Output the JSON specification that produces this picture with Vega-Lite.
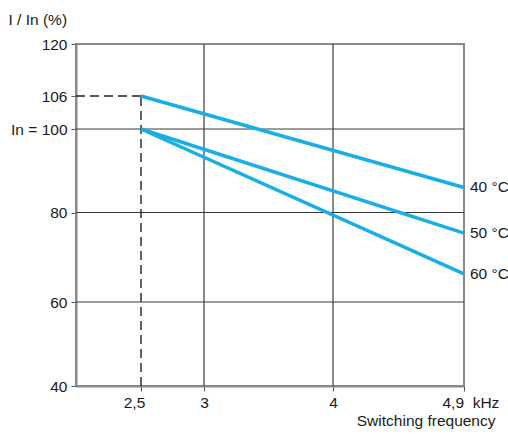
{
  "$schema": "https://vega.github.io/schema/vega-lite/v6.json",
  "autosize": "none",
  "width": 388,
  "height": 342,
  "padding": {"left": 76, "top": 44, "right": 44, "bottom": 48},
  "background": "white",
  "config": {
    "view": {"stroke": "#8a8a8a", "strokeWidth": 2},
    "font": "Liberation Sans",
    "axis": {"labelFont": "Liberation Sans", "titleFont": "Liberation Sans", "labelFontSize": 15.5, "titleFontSize": 15.5, "labelColor": "#1a1a1a", "titleColor": "#1a1a1a", "titleFontWeight": "normal", "domainColor": "#8a8a8a", "domainWidth": 2, "tickColor": "#555555", "tickSize": 5, "tickWidth": 1, "labelPadding": 4, "grid": false}
  },
  "datasets": {
    "curves": [
      {"f": 2.5, "pct": 106, "temp": "40 °C"},
      {"f": 4.9, "pct": 86, "temp": "40 °C"},
      {"f": 2.5, "pct": 100, "temp": "50 °C"},
      {"f": 4.9, "pct": 75.4, "temp": "50 °C"},
      {"f": 2.5, "pct": 100, "temp": "60 °C"},
      {"f": 4.9, "pct": 66.3, "temp": "60 °C"}
    ],
    "vgrid": [{"f": 3}, {"f": 4}],
    "hgrid": [{"pct": 100}, {"pct": 80}, {"pct": 60}],
    "dashes": [
      {"f": 2, "f2": 2.5, "pct": 106, "pct2": 106},
      {"f": 2.5, "f2": 2.5, "pct": 40, "pct2": 106}
    ]
  },
  "layer": [
    {
      "data": {"name": "vgrid"},
      "mark": {"type": "rule", "color": "#3a3a3a", "strokeWidth": 1.2},
      "encoding": {
        "x": {"field": "f", "type": "quantitative",
          "scale": {"domain": [2, 2.5, 3, 4, 4.9], "range": [0, 65, 128, 257, 388], "nice": false, "zero": false},
          "axis": {
            "values": [2.5, 3, 4, 4.9],
            "labelExpr": "datum.value == 4.9 ? '4,9\u00a0\u00a0kHz' : replace(format(datum.value, '~g'), '.', ',')",
            "labelAlign": {"condition": {"test": "datum.value == 4.9", "value": "left"}, "value": "center"},
            "labelOffset": {"condition": [{"test": "datum.value == 4.9", "value": -22}, {"test": "datum.value == 2.5", "value": -7}], "value": 0},
            "labelFlush": false,
            "labelOverlap": false,
            "title": "Switching frequency",
            "titleAlign": "right",
            "titleBaseline": "alphabetic",
            "titleX": 419,
            "titleY": 39
          }
        }
      }
    },
    {
      "data": {"name": "hgrid"},
      "mark": {"type": "rule", "color": "#3a3a3a", "strokeWidth": 1},
      "encoding": {
        "y": {"field": "pct", "type": "quantitative",
          "scale": {"domain": [40, 60, 80, 100, 106, 120], "range": [342, 258, 168.5, 85, 52, 0], "nice": false, "zero": false},
          "axis": {
            "values": [40, 60, 80, 100, 106, 120],
            "labelExpr": "datum.value == 100 ? 'In = 100' : datum.label",
            "labelOverlap": false,
            "labelFlush": false,
            "title": "I / In (%)",
            "titleAngle": 0,
            "titleAlign": "left",
            "titleBaseline": "alphabetic",
            "titleX": -68,
            "titleY": -20
          }
        }
      }
    },
    {
      "data": {"name": "dashes"},
      "mark": {"type": "rule", "color": "#222222", "strokeWidth": 1.4, "strokeDash": [9, 5]},
      "encoding": {
        "x": {"field": "f", "type": "quantitative"},
        "x2": {"field": "f2"},
        "y": {"field": "pct", "type": "quantitative"},
        "y2": {"field": "pct2"}
      }
    },
    {
      "data": {"name": "curves"},
      "mark": {"type": "line", "strokeWidth": 3.5, "color": "#1aaee6"},
      "encoding": {
        "x": {"field": "f", "type": "quantitative"},
        "y": {"field": "pct", "type": "quantitative"},
        "detail": {"field": "temp"}
      }
    },
    {
      "data": {"name": "curves"},
      "transform": [{"filter": "datum.f == 4.9"}],
      "mark": {"type": "text", "align": "left", "baseline": "middle", "dx": 6, "fontSize": 15.5, "color": "#1a1a1a", "font": "Liberation Sans"},
      "encoding": {
        "x": {"field": "f", "type": "quantitative"},
        "y": {"field": "pct", "type": "quantitative"},
        "text": {"field": "temp"}
      }
    }
  ]
}
